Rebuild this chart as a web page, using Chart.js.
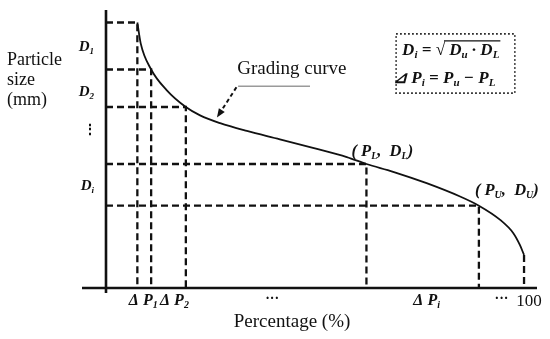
<!DOCTYPE html>
<html><head><meta charset="utf-8">
<script src="https://cdn.jsdelivr.net/npm/chart.js@4"></script>
<style>html,body{margin:0;padding:0;background:#fff}#wrap{width:550px;height:339px}</style>
</head><body><div id="wrap"><canvas id="c" width="550" height="339"></canvas></div>
<script>
// ---- data (percentage %, relative particle size) ----
const curvePercent = [7.5, 8.3, 10.8, 14.5, 19.1, 22.5, 27.3, 33.7, 41.6, 49.5, 57.6, 62.3, 68.7, 76.7, 84.7, 89.2, 94.3, 97.4, 99.0, 100];
const curveSize    = [95.5, 88.0, 78.6, 71.2, 65.1, 62.1, 59.3, 56.5, 53.5, 50.4, 47.1, 44.6, 41.8, 37.7, 32.9, 29.6, 24.5, 19.8, 15.5, 11.9];
// levels where dashed guide lines meet the curve
const levelPercent = [7.5, 10.8, 19.1, 62.3, 89.2, 100];
const levelSize    = [95.5, 78.6, 65.1, 44.6, 29.6, 11.9];
const levelHasHorizontal = [true, true, true, true, true, false];
// tick labels (main text, subscript), placed between consecutive levels
const sizeTickLabels = [['D','1'], ['D','2'], ['⋮',''], ['D','i']];
const percentTickLabels = [['Δ P','1'], ['Δ P','2'], ['···',''], ['Δ P','i'], ['···','']];
const percentEndLabel = '100';
const yTitleLines = ['Particle', 'size', '(mm)'];
const xTitle = 'Percentage (%)';
const curveName = 'Grading curve';
const lowerPointLabel = [['( P',''], ['L','s'], [',  D',''], ['L','s'], [')','']];
const upperPointLabel = [['( P',''], ['U','s'], [',  D',''], ['U','s'], [')','']];
const formulaLine1a = [['D',''], ['i','s'], [' = √','']];
const formulaLine1b = [[' D',''], ['u','s'], [' · D',''], ['L','s']];
const formulaLine2 = [['⊿ P',''], ['i','s'], [' = P',''], ['u','s'], [' − P',''], ['L','s']];

const serif = '"Liberation Serif", "Times New Roman", serif';
const ink = '#111';

function rich(ctx, parts, x, y, size, style, align) {
  let w = 0; const ws = [];
  for (const [t, k] of parts) {
    ctx.font = `${style} ${k === 's' ? Math.round(size * 0.62) : size}px ${serif}`;
    const m = ctx.measureText(t).width; ws.push(m); w += m;
  }
  let cx = align === 'center' ? x - w / 2 : (align === 'right' ? x - w : x);
  ctx.textAlign = 'left'; ctx.textBaseline = 'alphabetic';
  parts.forEach(([t, k], i) => {
    ctx.font = `${style} ${k === 's' ? Math.round(size * 0.62) : size}px ${serif}`;
    ctx.fillText(t, cx, k === 's' ? y + size * 0.2 : y);
    cx += ws[i];
  });
  return w;
}

const datasets = [];
datasets.push({
  label: curveName,
  data: curvePercent.map((p, i) => ({x: p, y: curveSize[i]})),
  borderColor: ink, borderWidth: 1.8, pointRadius: 0,
  showLine: true, cubicInterpolationMode: 'monotone'
});
levelPercent.forEach((p, i) => {
  const pts = levelHasHorizontal[i]
    ? [{x: 0, y: levelSize[i]}, {x: p, y: levelSize[i]}, {x: p, y: 0}]
    : [{x: p, y: levelSize[i]}, {x: p, y: 0}];
  datasets.push({
    data: pts, borderColor: ink, borderWidth: 2.3, borderDash: [7, 4],
    pointRadius: 0, showLine: true, tension: 0
  });
});

const drawPlugin = {
  id: 'schematic',
  afterDatasetsDraw(chart) {
    const ctx = chart.ctx, xs = chart.scales.x, ys = chart.scales.y, a = chart.chartArea;
    const X = v => xs.getPixelForValue(v), Y = v => ys.getPixelForValue(v);
    ctx.save();
    ctx.fillStyle = ink; ctx.strokeStyle = ink; ctx.setLineDash([]);
    // axes
    ctx.lineWidth = 2.6;
    ctx.beginPath(); ctx.moveTo(a.left, Y(0)); ctx.lineTo(a.right, Y(0)); ctx.stroke();
    ctx.beginPath(); ctx.moveTo(X(0), a.top); ctx.lineTo(X(0), a.bottom); ctx.stroke();
    // y tick labels
    const yShift = [0, 3, -3, 0];
    sizeTickLabels.forEach((lab, i) => {
      const yc = Y((levelSize[i] + levelSize[i + 1]) / 2) + yShift[i];
      if (lab[0] === '⋮') {
        ctx.font = `bold 14px ${serif}`; ctx.textAlign = 'center'; ctx.textBaseline = 'middle';
        ctx.fillText('⋮', X(0) - 16, yc - 2);
      } else {
        rich(ctx, [[lab[0], ''], [lab[1], 's']], X(0) - 12, yc + 5, 15, 'italic bold', 'right');
      }
    });
    // x tick labels
    const xShift = [-1, 6, -4, 4, 0];
    percentTickLabels.forEach((lab, i) => {
      const xc = X((levelPercent[i] + levelPercent[i + 1]) / 2) + xShift[i];
      if (lab[1] === '') {
        ctx.font = `bold 14px ${serif}`; ctx.textAlign = 'center'; ctx.textBaseline = 'alphabetic';
        ctx.fillText(lab[0], xc, Y(0) + 15);
      } else {
        rich(ctx, [[lab[0], ''], [lab[1], 's']], xc, Y(0) + 17, 16, 'italic bold', 'center');
      }
    });
    ctx.font = `17px ${serif}`; ctx.textAlign = 'center'; ctx.textBaseline = 'alphabetic';
    ctx.fillText(percentEndLabel, X(100) + 5, Y(0) + 18);
    // axis titles
    ctx.font = `18px ${serif}`; ctx.textAlign = 'left'; ctx.textBaseline = 'middle';
    yTitleLines.forEach((t, i) => ctx.fillText(t, 7, 60 + i * 20));
    ctx.font = `19px ${serif}`; ctx.textAlign = 'center';
    ctx.fillText(xTitle, X(44.5), 322);
    // curve name, underline, dashed arrow
    ctx.font = `19px ${serif}`; ctx.textAlign = 'left'; ctx.textBaseline = 'middle';
    ctx.fillText(curveName, X(31.4), Y(78.8));
    ctx.strokeStyle = '#9a9a9a'; ctx.lineWidth = 1.5;
    ctx.beginPath(); ctx.moveTo(X(31.6), Y(72.6)); ctx.lineTo(X(48.8), Y(72.6)); ctx.stroke();
    ctx.strokeStyle = ink; ctx.lineWidth = 2; ctx.setLineDash([4, 3]);
    const tx = X(31.2), ty = Y(72.2), hx = X(26.8), hy = Y(61.9);
    ctx.beginPath(); ctx.moveTo(tx, ty); ctx.lineTo(hx, hy); ctx.stroke();
    ctx.setLineDash([]);
    const ang = Math.atan2(hy - ty, hx - tx);
    ctx.beginPath(); ctx.moveTo(hx + 2 * Math.cos(ang), hy + 2 * Math.sin(ang));
    ctx.lineTo(hx - 7 * Math.cos(ang) + 3.5 * Math.sin(ang), hy - 7 * Math.sin(ang) - 3.5 * Math.cos(ang));
    ctx.lineTo(hx - 7 * Math.cos(ang) - 3.5 * Math.sin(ang), hy - 7 * Math.sin(ang) + 3.5 * Math.cos(ang));
    ctx.closePath(); ctx.fill();
    // point labels
    rich(ctx, lowerPointLabel, X(levelPercent[3]) - 15, Y(levelSize[3]) - 8, 16.5, 'italic bold', 'left');
    rich(ctx, upperPointLabel, X(levelPercent[4]) - 4, Y(levelSize[4]) - 11, 16.5, 'italic bold', 'left');
    // formula box
    const bx0 = X(69.4), bx1 = X(97.8), by0 = Y(91.4), by1 = Y(70.1);
    ctx.lineWidth = 1.6; ctx.setLineDash([1.6, 2.4]);
    ctx.strokeRect(bx0, by0, bx1 - bx0, by1 - by0);
    ctx.setLineDash([]);
    const fx = bx0 + 6, fy1 = by0 + 21, fy2 = by0 + 49;
    const w1 = rich(ctx, formulaLine1a, fx, fy1, 17, 'italic bold', 'left');
    const w2 = rich(ctx, formulaLine1b, fx + w1, fy1, 17, 'italic bold', 'left');
    ctx.lineWidth = 1.2;
    ctx.beginPath(); ctx.moveTo(fx + w1 - 1, fy1 - 14); ctx.lineTo(fx + w1 + w2 + 1, fy1 - 14); ctx.stroke();
    rich(ctx, formulaLine2, bx0 - 3, fy2, 17, 'italic bold', 'left');
    ctx.restore();
  }
};

new Chart(document.getElementById('c'), {
  type: 'scatter',
  data: {datasets},
  options: {
    responsive: false, animation: false, devicePixelRatio: 1,
    layout: {padding: {left: 82, right: 13, top: 10, bottom: 46}},
    plugins: {legend: {display: false}, tooltip: {enabled: false}},
    scales: {
      x: {type: 'linear', min: -5.74, max: 103.1, display: false},
      y: {type: 'linear', min: -1.8, max: 100, display: false}
    }
  },
  plugins: [drawPlugin]
});
</script>
</body></html>
